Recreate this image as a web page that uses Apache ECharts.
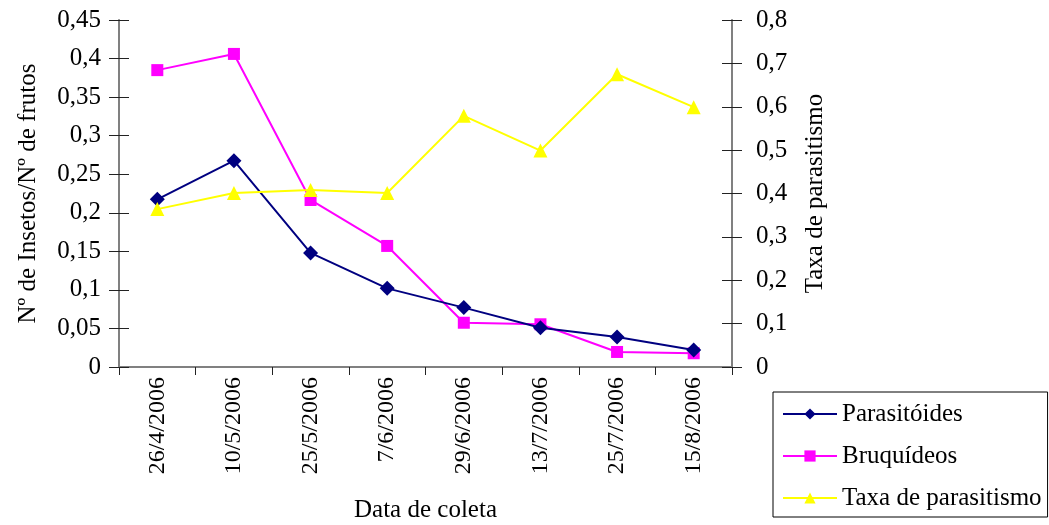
<!DOCTYPE html>
<html>
<head>
<meta charset="utf-8">
<script src="https://cdn.jsdelivr.net/npm/echarts@6/dist/echarts.min.js"></script>
<style>html,body{margin:0;padding:0;background:#fff}#c{width:1049px;height:525px}</style>
</head>
<body>
<div id="c"></div>
<script>
const categories = ['26/4/2006','10/5/2006','25/5/2006','7/6/2006','29/6/2006','13/7/2006','25/7/2006','15/8/2006'];
const parasitoides = [0.2175, 0.2675, 0.148, 0.102, 0.077, 0.051, 0.039, 0.022];
const bruquideos = [0.385, 0.406, 0.2166, 0.157, 0.0574, 0.0554, 0.0195, 0.0178];
const taxa = [0.364, 0.401, 0.408, 0.401, 0.579, 0.499, 0.675, 0.599];
const seriesNames = ['Parasitóides', 'Bruquídeos', 'Taxa de parasitismo'];

const FONT = 'Liberation Serif';
const fmt = v => String(+v.toFixed(2)).replace('.', ',');
const chart = echarts.init(document.getElementById('c'));
const tickStyle = { color: '#222', width: 1 };
const lineAx = { show: true, lineStyle: { color: '#808080', width: 2 } };

chart.setOption({
  animation: false,
  textStyle: { fontFamily: FONT },
  grid: { left: 119, right: 317, top: 20, bottom: 158, containLabel: false, outerBoundsMode: 'none' },
  legend: {
    orient: 'vertical', left: 773, top: 392,
    padding: [9, 6, 6, 9],
    borderColor: '#000', borderWidth: 1,
    itemWidth: 54, itemHeight: 14, itemGap: 16,
    textStyle: { fontFamily: FONT, fontSize: 25, lineHeight: 26, color: '#000' },
    data: seriesNames
  },
  xAxis: {
    type: 'category', data: categories, boundaryGap: true,
    name: 'Data de coleta', nameLocation: 'middle', nameGap: 131,
    nameTextStyle: { fontFamily: FONT, fontSize: 25, color: '#000' },
    axisLine: lineAx,
    axisTick: { show: true, length: 8, lineStyle: tickStyle },
    axisLabel: { rotate: 90, margin: 10, fontFamily: FONT, fontSize: 24, color: '#000' },
    splitLine: { show: false }
  },
  yAxis: [
    {
      type: 'value', position: 'left', min: 0, max: 0.45, interval: 0.05,
      name: 'Nº de Insetos/Nº de frutos', nameLocation: 'middle', nameGap: 78, nameRotate: 90,
      nameTextStyle: { fontFamily: FONT, fontSize: 25, color: '#000' },
      axisLine: lineAx,
      axisTick: { show: true, length: 10, lineStyle: tickStyle },
      axisLabel: { margin: 18, fontFamily: FONT, fontSize: 25, color: '#000', formatter: fmt },
      splitLine: { show: false }
    },
    {
      type: 'value', position: 'right', min: 0, max: 0.8, interval: 0.1,
      name: 'Taxa de parasitismo', nameLocation: 'middle', nameGap: 71, nameRotate: 90,
      nameTextStyle: { fontFamily: FONT, fontSize: 25, color: '#000' },
      axisLine: lineAx,
      axisTick: { show: true, length: 10, lineStyle: tickStyle },
      axisLabel: { margin: 24, fontFamily: FONT, fontSize: 25, color: '#000', formatter: fmt },
      splitLine: { show: false }
    },
    {
      type: 'value', position: 'left', min: 0, max: 0.45, interval: 0.05,
      axisLine: { show: false },
      axisTick: { show: true, inside: true, length: 10, lineStyle: tickStyle },
      axisLabel: { show: false }, splitLine: { show: false }
    },
    {
      type: 'value', position: 'right', min: 0, max: 0.8, interval: 0.1,
      axisLine: { show: false },
      axisTick: { show: true, inside: true, length: 10, lineStyle: tickStyle },
      axisLabel: { show: false }, splitLine: { show: false }
    }
  ],
  series: [
    {
      name: seriesNames[0], type: 'line', yAxisIndex: 0, data: parasitoides,
      symbol: 'diamond', symbolSize: 15, showAllSymbol: true,
      lineStyle: { color: '#000080', width: 2 }, itemStyle: { color: '#000080' }, z: 3
    },
    {
      name: seriesNames[1], type: 'line', yAxisIndex: 0, data: bruquideos,
      symbol: 'rect', symbolSize: 12, showAllSymbol: true,
      lineStyle: { color: '#FF00FF', width: 2 }, itemStyle: { color: '#FF00FF' }, z: 2
    },
    {
      name: seriesNames[2], type: 'line', yAxisIndex: 1, data: taxa,
      symbol: 'triangle', symbolSize: 14, showAllSymbol: true,
      lineStyle: { color: '#FFFF00', width: 2 }, itemStyle: { color: '#FFFF00' }, z: 4
    }
  ]
});
</script>
</body>
</html>
